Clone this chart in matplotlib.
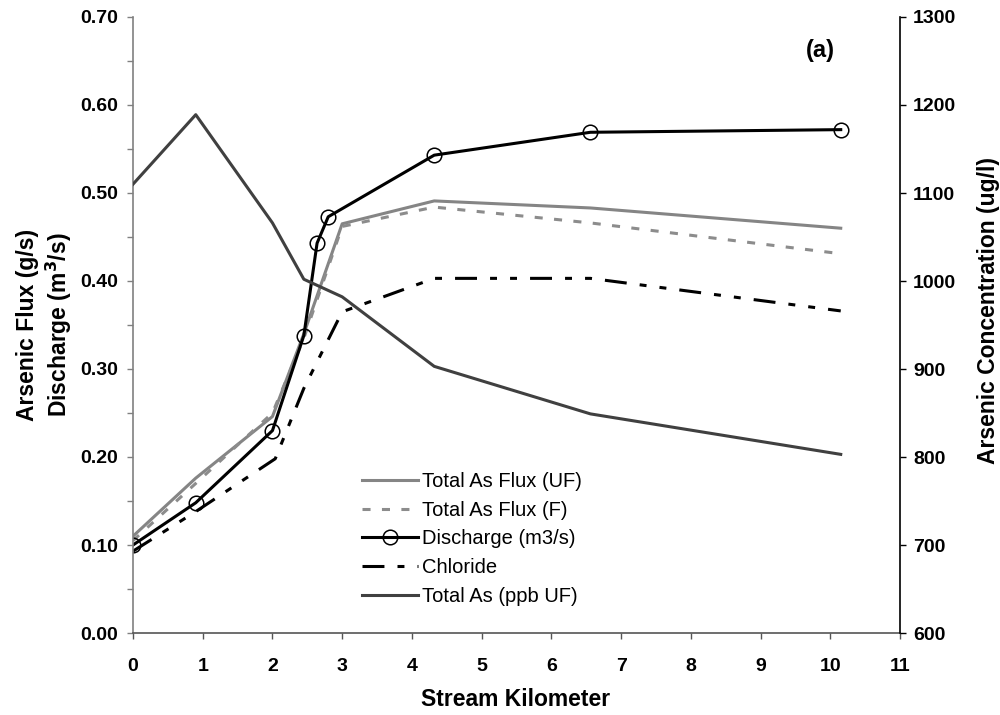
import matplotlib
matplotlib.use("Agg")
import matplotlib.pyplot as plt
from matplotlib.ticker import MultipleLocator, FormatStrFormatter

plt.rcParams['font.family'] = ['Liberation Sans', 'DejaVu Sans']
plt.rcParams['lines.scale_dashes'] = False

# Stream kilometer of each sampling site
km_flux = [0, 0.9, 2.0, 2.45, 3.0, 4.32, 6.56, 10.15]
km_discharge = [0, 0.9, 2.0, 2.45, 2.64, 2.80, 4.32, 6.56, 10.15]
km_chloride = [0, 0.9, 2.04, 2.45, 3.0, 4.32, 6.56, 10.15]
km_conc = [0, 0.9, 2.0, 2.45, 3.0, 4.32, 6.56, 10.15]

# Left axis: flux (g/s) and discharge (m3/s)
flux_uf = [0.110, 0.176, 0.246, 0.340, 0.465, 0.491, 0.483, 0.460]
flux_f = [0.105, 0.170, 0.250, 0.335, 0.462, 0.484, 0.466, 0.431]
discharge = [0.100, 0.148, 0.230, 0.338, 0.443, 0.473, 0.543, 0.569, 0.572]
chloride = [0.093, 0.138, 0.198, 0.278, 0.365, 0.403, 0.403, 0.366]

# Right axis: total arsenic concentration (ug/l)
conc_uf = [1110, 1189, 1066, 1002, 982, 903, 849, 803]

x_ticks = list(range(0, 12))
left_ticks = [0.0, 0.1, 0.2, 0.3, 0.4, 0.5, 0.6, 0.7]
right_ticks = [600, 700, 800, 900, 1000, 1100, 1200, 1300]

fig = plt.figure(figsize=(10, 7.15), dpi=100)
ax = fig.add_axes([0.133, 1 - 633 / 715, 0.767, (633 - 17) / 715])
ax2 = ax.twinx()

lw = 2.2
h_uf, = ax.plot(km_flux, flux_uf, color='#858585', lw=lw, label='Total As Flux (UF)')
h_f, = ax.plot(km_flux, flux_f, color='#8c8c8c', lw=lw, dashes=(5.8, 8.2),
               label='Total As Flux (F)')
h_q, = ax.plot(km_discharge, discharge, color='black', lw=lw, marker='o',
               markersize=10.5, markerfacecolor='none', markeredgecolor='black',
               markeredgewidth=1.1, label='Discharge (m3/s)')
h_cl, = ax.plot(km_chloride, chloride, color='black', lw=lw,
                dashes=(15.8, 9.4, 5.0, 9.4, 5.0, 9.4), label='Chloride')
h_as, = ax2.plot(km_conc, conc_uf, color='#404040', lw=lw, label='Total As (ppb UF)')

ax.set_xlim(0, 11)
ax.set_ylim(0, 0.70)
ax2.set_ylim(600, 1300)
ax.set_xticks(x_ticks)
ax.set_yticks(left_ticks)
ax.yaxis.set_minor_locator(MultipleLocator(0.05))
ax.yaxis.set_major_formatter(FormatStrFormatter('%.2f'))
ax2.set_yticks(right_ticks)

for lab in ax.get_xticklabels() + ax.get_yticklabels() + ax2.get_yticklabels():
    lab.set_fontsize(14)
    lab.set_fontweight('bold')

ax.tick_params(axis='x', direction='out', length=4, width=1, pad=14, colors='#555555',
               labelcolor='black')
ax.tick_params(axis='y', which='both', direction='out', length=4, width=1, pad=7,
               colors='#808080', labelcolor='black')
ax2.tick_params(axis='y', direction='out', length=4, width=1, pad=5.5, colors='black',
                labelcolor='black')

for a in (ax, ax2):
    a.spines['top'].set_visible(False)
ax.spines['left'].set_color('#808080')
ax2.spines['left'].set_visible(False)
ax.spines['right'].set_visible(False)
ax.spines['bottom'].set_color('#555555')
ax2.spines['bottom'].set_visible(False)
ax2.spines['right'].set_color('black')
for s in ('left', 'bottom'):
    ax.spines[s].set_linewidth(1.2)
ax2.spines['right'].set_linewidth(1.2)

fig.text(0.516, 1 - 699 / 715, 'Stream Kilometer', ha='center', va='center',
         fontsize=16.5, fontweight='bold')
fig.text(0.045, 1 - 325 / 715, 'Arsenic Flux (g/s)\nDischarge (m$^\\mathbf{3}$/s)',
         rotation=90, ha='center', va='center', fontsize=16.5, fontweight='bold',
         linespacing=1.25)
fig.text(0.989, 1 - 310 / 715, 'Arsenic Concentration (ug/l)', rotation=90,
         ha='center', va='center', fontsize=16.5, fontweight='bold')
fig.text(0.820, 1 - 51 / 715, '(a)', ha='center', va='center', fontsize=17,
         fontweight='bold')

leg = ax2.legend(handles=[h_uf, h_f, h_q, h_cl, h_as], loc='upper left',
                 bbox_to_anchor=(362 / 1000, 1 - 472 / 715),
                 bbox_transform=fig.transFigure, frameon=False, fontsize=14.5,
                 handlelength=2.8, handletextpad=0.2, labelspacing=0.48,
                 borderpad=0, borderaxespad=0, numpoints=1)
for t in leg.get_texts():
    t.set_color('black')

fig.savefig('out.png', dpi=100)
